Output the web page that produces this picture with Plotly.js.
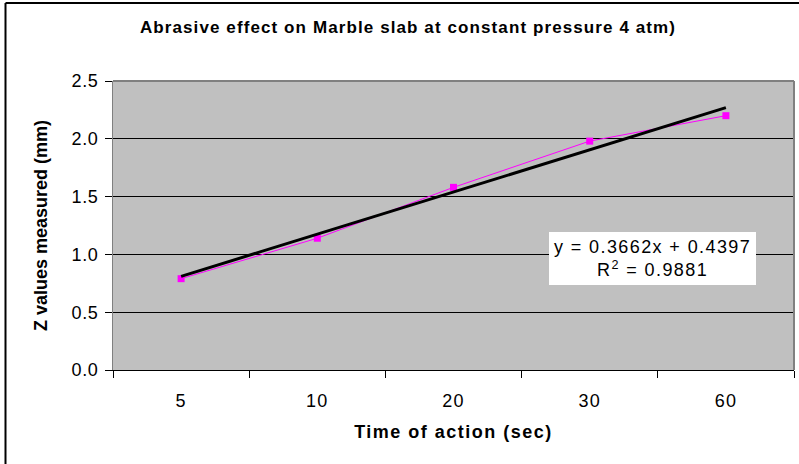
<!DOCTYPE html>
<html>
<head>
<meta charset="utf-8">
<script src="https://cdn.plot.ly/plotly-3.0.1.min.js"></script>
<style>
  html, body { margin: 0; padding: 0; background: #fff; }
  #chart { width: 799px; height: 464px; }
  .gtitle { letter-spacing: 1.1px; }
  .xtitle { letter-spacing: 1.5px; }
  .xtick text { letter-spacing: 1.2px; }
  .ytick text { letter-spacing: 0.6px; }
  .annotation-text { letter-spacing: 1.4px; }
</style>
</head>
<body>
<div id="chart"></div>
<script>
// Data
const categories = ['5', '10', '20', '30', '60'];
const zValues = [0.79, 1.14, 1.58, 1.98, 2.20];
// Linear trendline, read at its two ends
const trendX = ['5', '60'];
const trendY = [0.81, 2.27];
const yTickVals = [0, 0.5, 1.0, 1.5, 2.0, 2.5];
const yTickText = ['0.0', '0.5', '1.0', '1.5', '2.0', '2.5'];
const titleText = 'Abrasive effect on Marble slab at constant pressure 4 atm)';
const xTitle = 'Time of action (sec)';
const yTitle = 'Z values measured (mm)';
const eqText = 'y = 0.3662x + 0.4397<br>R<sup>2</sup> = 0.9881';

const font = 'Arial, "Liberation Sans", sans-serif';

const traces = [
  {
    x: categories, y: zValues, type: 'scatter', mode: 'lines+markers',
    line: { color: '#ff00ff', width: 1 },
    marker: { symbol: 'square', size: 7, color: '#ff00ff' },
    hoverinfo: 'skip', showlegend: false
  },
  {
    x: trendX, y: trendY, type: 'scatter', mode: 'lines',
    line: { color: '#000000', width: 3 },
    hoverinfo: 'skip', showlegend: false
  }
];

const layout = {
  width: 799, height: 464,
  margin: { l: 113, r: 5, t: 81, b: 94, pad: 0 },
  paper_bgcolor: '#ffffff',
  plot_bgcolor: '#c0c0c0',
  font: { family: font, color: '#000' },
  title: {
    text: titleText,
    font: { family: font, size: 17, weight: 'bold', color: '#000' },
    x: 408 / 799, xanchor: 'center', xref: 'container',
    y: 1 - 27 / 464, yanchor: 'middle', yref: 'container'
  },
  xaxis: {
    type: 'category',
    categoryorder: 'array', categoryarray: categories,
    range: [-0.5, 4.5],
    showgrid: false, zeroline: false,
    showline: true, linecolor: '#000', linewidth: 1,
    ticks: 'outside', tickson: 'boundaries', ticklen: 7, tickcolor: '#000', tickwidth: 1,
    tickfont: { family: font, size: 18, color: '#000' },
    ticklabelstandoff: 14,
    title: { text: xTitle, font: { family: font, size: 18, weight: 'bold', color: '#000' }, standoff: 15 },
    fixedrange: true
  },
  yaxis: {
    range: [0, 2.5],
    tickvals: yTickVals, ticktext: yTickText,
    showgrid: true, gridcolor: '#000', gridwidth: 1,
    zeroline: false,
    showline: true, linecolor: '#808080', linewidth: 1, mirror: false,
    ticks: 'outside', ticklen: 7, tickcolor: '#000', tickwidth: 1,
    tickfont: { family: font, size: 18, color: '#000' },
    ticklabelstandoff: 3,
    title: { text: yTitle, font: { family: font, size: 18, weight: 'bold', color: '#000' }, standoff: 19 },
    fixedrange: true
  },
  shapes: [
    // plot area border (top and right, gray)
    { type: 'line', xref: 'paper', yref: 'paper', x0: 0, x1: 1, y0: 1, y1: 1, line: { color: '#808080', width: 2 } },
    { type: 'line', xref: 'paper', yref: 'paper', x0: 1, x1: 1, y0: 0, y1: 1, line: { color: '#808080', width: 2 } },
    // chart area border (left and top edges visible)
    { type: 'line', xref: 'paper', yref: 'paper', x0: (5.5 - 113) / 681, x1: (5.5 - 113) / 681, y0: -1, y1: (370 - 3) / 289, line: { color: '#000', width: 2 } },
    { type: 'line', xref: 'paper', yref: 'paper', x0: (5.5 - 113) / 681, x1: 1.2, y0: (370 - 3) / 289, y1: (370 - 3) / 289, line: { color: '#000', width: 2 } }
  ],
  annotations: [
    {
      text: eqText, xref: 'paper', yref: 'paper',
      x: (652.5 - 113) / 681, y: (370 - 258.5) / 289, xanchor: 'center', yanchor: 'middle',
      showarrow: false, align: 'center',
      bgcolor: '#ffffff', borderpad: 5, borderwidth: 0,
      font: { family: font, size: 18, color: '#000' }
    }
  ]
};

Plotly.newPlot('chart', traces, layout, { staticPlot: true, displayModeBar: false });
</script>
</body>
</html>
